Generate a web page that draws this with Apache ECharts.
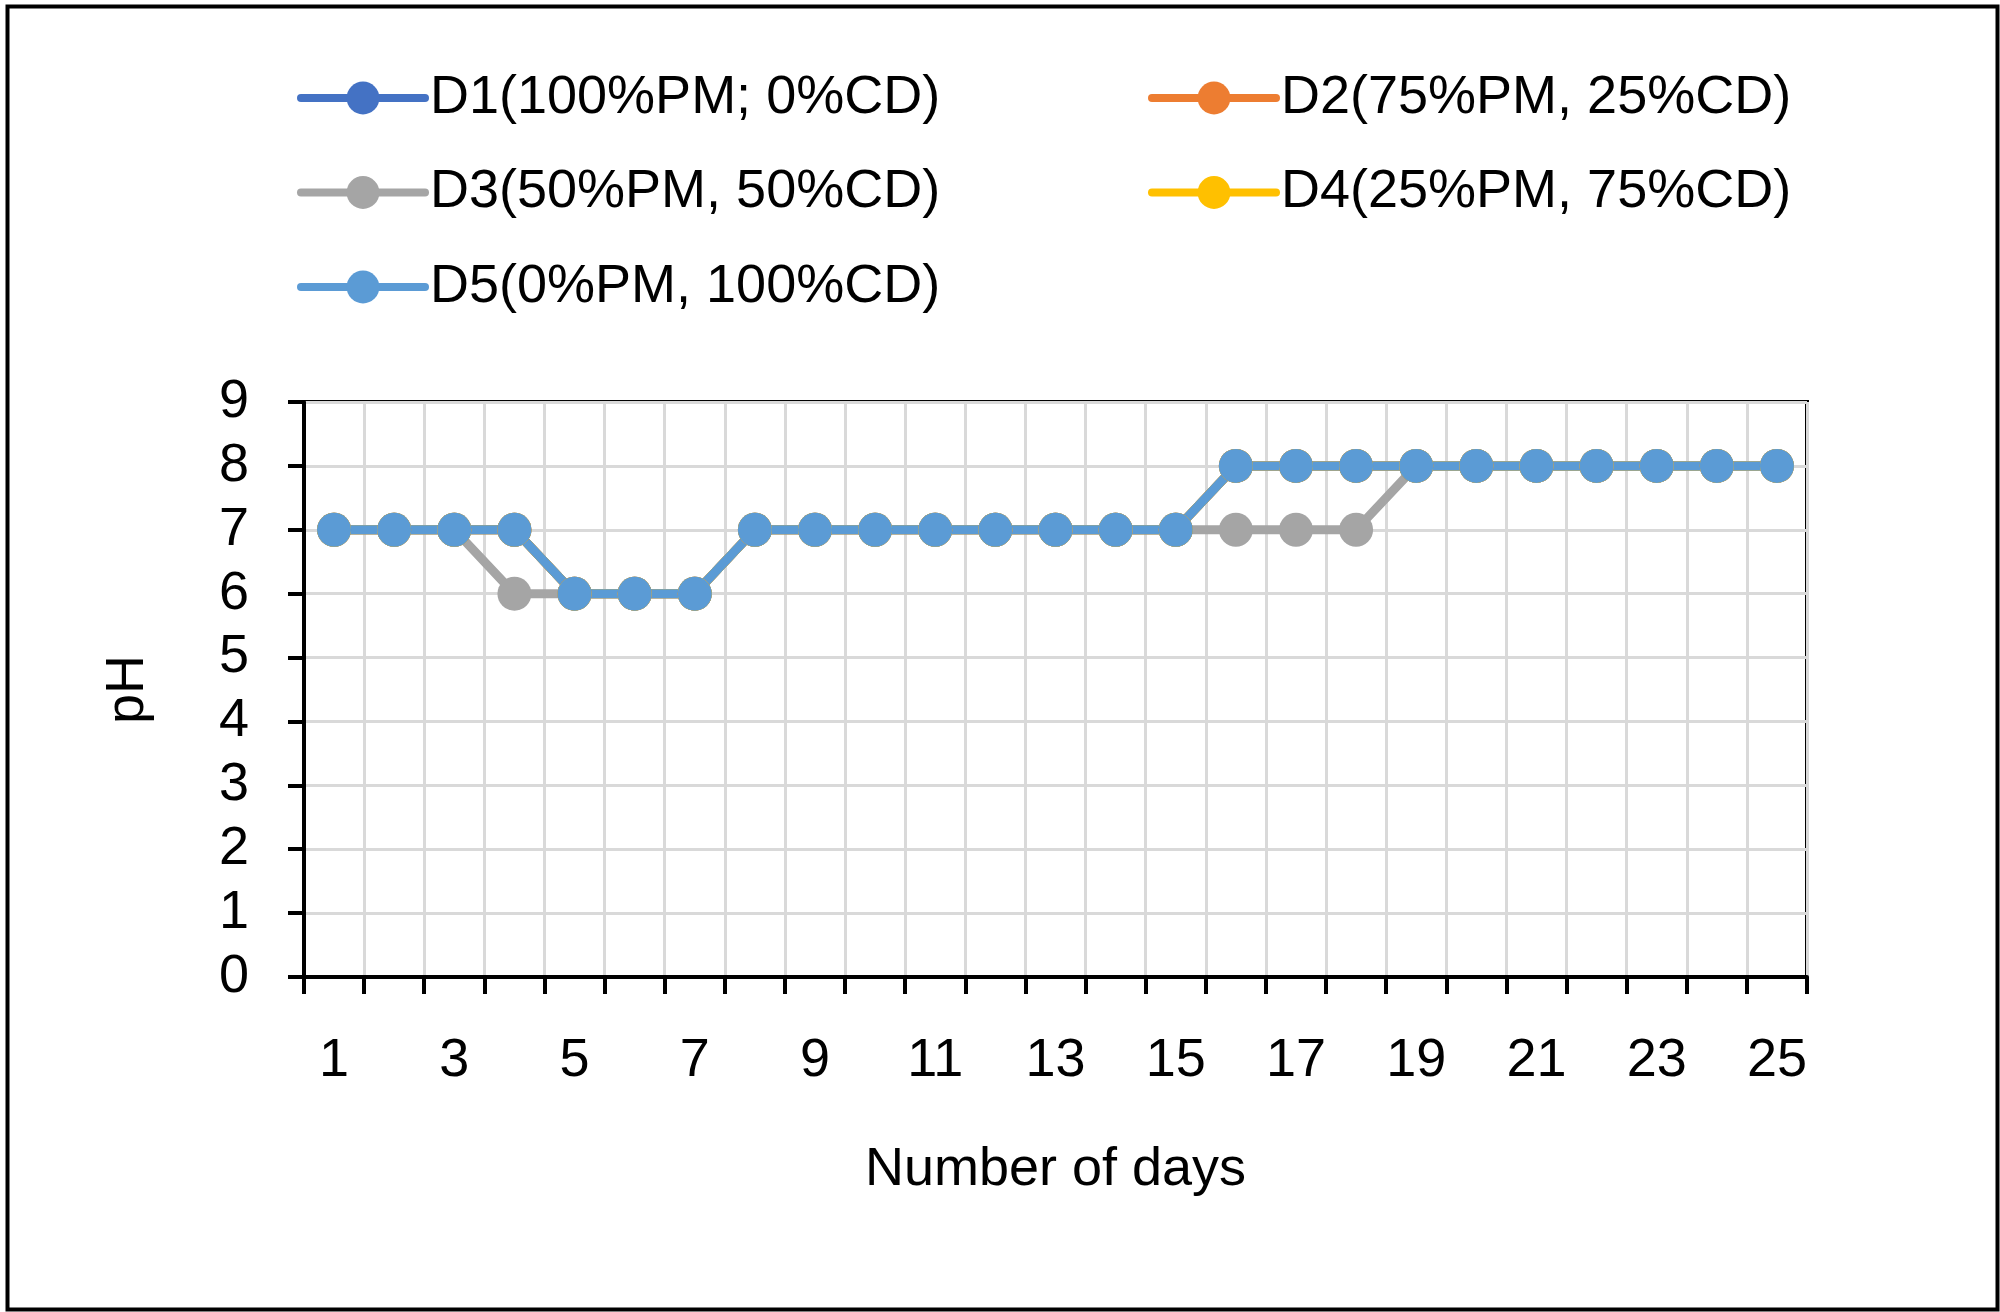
<!DOCTYPE html>
<html>
<head>
<meta charset="utf-8">
<script src="https://cdn.jsdelivr.net/npm/echarts@6/dist/echarts.min.js"></script>
<style>
html,body{margin:0;padding:0;background:#fff;}
#chart{width:2000px;height:1312px;}
</style>
</head>
<body>
<div id="chart"></div>
<script>
const days = ['1','2','3','4','5','6','7','8','9','10','11','12','13','14','15','16','17','18','19','20','21','22','23','24','25'];
const d1 = [7,7,7,7,6,6,6,7,7,7,7,7,7,7,7,8,8,8,8,8,8,8,8,8,8];
const d2 = [7,7,7,7,6,6,6,7,7,7,7,7,7,7,7,8,8,8,8,8,8,8,8,8,8];
const d3 = [7,7,7,6,6,6,6,7,7,7,7,7,7,7,7,7,7,7,8,8,8,8,8,8,8];
const d4 = [7,7,7,7,6,6,6,7,7,7,7,7,7,7,7,8,8,8,8,8,8,8,8,8,8];
const d5 = [7,7,7,7,6,6,6,7,7,7,7,7,7,7,7,8,8,8,8,8,8,8,8,8,8];
const names = ['D1(100%PM; 0%CD)','D2(75%PM, 25%CD)','D3(50%PM, 50%CD)','D4(25%PM, 75%CD)','D5(0%PM, 100%CD)'];
const colors = ['#4472C4','#ED7D31','#A5A5A5','#FFC000','#5B9BD5'];
const seriesData = [d1,d2,d3,d4,d5];

const FONT = 'Liberation Sans';
const chart = echarts.init(document.getElementById('chart'));
const legendText = {fontFamily: FONT, fontSize: 54, color: '#000', lineHeight: 54};
const legendLine = {width: 8, cap: 'round'};
chart.setOption({
  animation: false,
  backgroundColor: '#fff',
  graphic: [{
    type: 'rect', left: 5, top: 4, z: 100,
    shape: {width: 1990, height: 1303},
    style: {fill: 'none', stroke: '#000', lineWidth: 4}
  }],
  legend: [
    {data: [names[0], names[2], names[4]], orient: 'vertical', left: 292, top: 66,
     itemWidth: 124, itemHeight: 41, itemGap: 40.5, textStyle: legendText, lineStyle: legendLine},
    {data: [names[1], names[3]], orient: 'vertical', left: 1143, top: 66,
     itemWidth: 124, itemHeight: 41, itemGap: 40.5, textStyle: legendText, lineStyle: legendLine}
  ],
  grid: {left: 304, right: 193, top: 402, bottom: 335, show: true, borderColor: '#000', borderWidth: 4, backgroundColor: 'transparent'},
  xAxis: {
    type: 'category', data: days, boundaryGap: true,
    name: 'Number of days', nameLocation: 'middle', nameGap: 166,
    nameTextStyle: {fontFamily: FONT, fontSize: 54, color: '#000'},
    axisLine: {lineStyle: {color: '#000', width: 4}},
    axisTick: {show: true, interval: 0, length: 17, lineStyle: {color: '#000', width: 4}},
    axisLabel: {interval: 1, margin: 57, fontFamily: FONT, fontSize: 54, color: '#000'},
    splitLine: {show: true, interval: 0, lineStyle: {color: '#D9D9D9', width: 3}}
  },
  yAxis: {
    type: 'value', min: 0, max: 9, interval: 1,
    name: 'pH', nameLocation: 'middle', nameGap: 149,
    nameTextStyle: {fontFamily: FONT, fontSize: 54, color: '#000'},
    axisLine: {show: true, lineStyle: {color: '#000', width: 4}},
    axisTick: {show: true, length: 16, lineStyle: {color: '#000', width: 4}},
    axisLabel: {margin: 55, fontFamily: FONT, fontSize: 54, color: '#000'},
    splitLine: {show: true, lineStyle: {color: '#D9D9D9', width: 3}}
  },
  series: seriesData.map((d, i) => ({
    name: names[i], type: 'line', data: d,
    symbol: 'circle', symbolSize: 34,
    itemStyle: {color: colors[i]},
    lineStyle: {color: colors[i], width: 9, cap: 'round'}
  }))
});
</script>
</body>
</html>
